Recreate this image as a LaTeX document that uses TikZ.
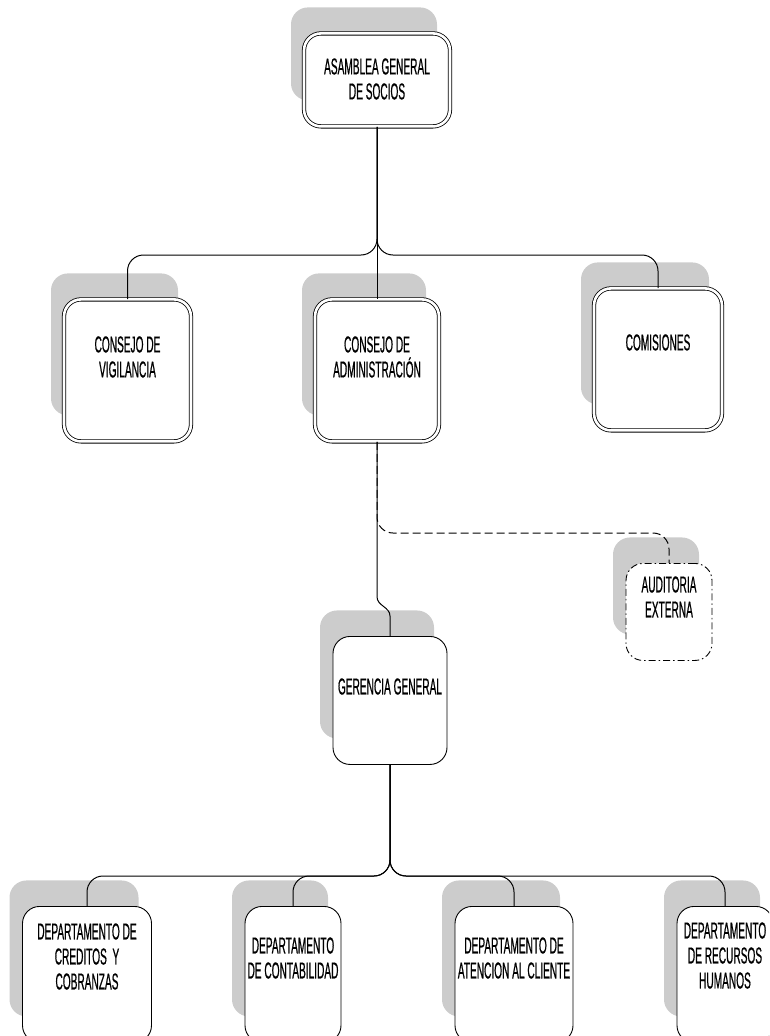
\documentclass[tikz,border=0pt]{standalone}
\usepackage{fontspec}
\usepackage{tikz}
\usetikzlibrary{calc,shadows}
\newfontfamily\orgfont[FakeStretch=0.44,FakeBold=0.6]{Liberation Sans}
\definecolor{ShadowGray}{RGB}{204,204,204}

\begin{document}
\begin{tikzpicture}[x=1pt,y=-1pt,
  box/.style={draw,fill=white,line width=0.9pt,rounded corners=17pt,anchor=north,
    inner sep=0pt,align=center,font=\orgfont\fontsize{23}{25}\selectfont,
    general shadow={fill=ShadowGray,shadow xshift=-13pt,shadow yshift=26pt}},
  dbox/.style={box,double,double distance=2.6pt,line width=0.8pt},
  abox/.style={box,dash pattern=on 7pt off 3pt on 1.5pt off 3pt},
  conn/.style={line width=1pt,rounded corners=16pt},
  dashconn/.style={conn,dash pattern=on 8pt off 4pt}]
  \useasboundingbox (0,0) rectangle (769,1036);
  \clip (0,0) rectangle (769,1036);

  % top
  \node[dbox,minimum width=146pt,text height=66pt,text depth=27pt] (asm) at (377,33)
    {ASAMBLEA GENERAL\\DE SOCIOS};

  % second row
  \node[dbox,minimum width=127pt,text height=78pt,text depth=64pt] (vig) at (127.5,299)
    {CONSEJO DE\\VIGILANCIA};
  \node[dbox,minimum width=124pt,text height=78pt,text depth=64pt] (adm) at (377,299)
    {CONSEJO DE\\ADMINISTRACIÓN};
  \node[dbox,minimum width=128pt,text height=62pt,text depth=80pt] (com) at (658,288)
    {COMISIONES};

  % staff + management
  \node[abox,minimum width=86pt,text height=54pt,text depth=43pt] (aud) at (669,563)
    {AUDITORIA\\EXTERNA};
  \node[box,minimum width=114pt,text height=58pt,text depth=70pt] (ger) at (390,636)
    {GERENCIA GENERAL};

  % departments
  \node[box,minimum width=129pt,text height=83pt,text depth=53pt] (cre) at (87,906)
    {DEPARTAMENTO DE\\CREDITOS \ Y\\COBRANZAS};
  \node[box,minimum width=96pt,text height=72pt,text depth=64pt] (con) at (293,906)
    {DEPARTAMENTO\\DE CONTABILIDAD};
  \node[box,minimum width=118pt,text height=72pt,text depth=64pt] (ate) at (514,906)
    {DEPARTAMENTO DE\\ATENCION AL CLIENTE};
  \node[box,minimum width=96pt,text height=82pt,text depth=54pt] (rec) at (725,906)
    {DEPARTAMENTO\\DE RECURSOS\\HUMANOS};

  % lines
  \coordinate (top) at (377,255);
  \coordinate (aux) at (377,533);
  \coordinate (low) at (390,876);
  \draw[conn] (asm.south) -- (adm.north);
  \draw[conn] (asm.south) -- (asm.south |- top) -- (vig.north |- top) -- (vig.north);
  \draw[conn] (asm.south) -- (asm.south |- top) -- (com.north |- top) -- (com.north);
  \draw[dashconn] (adm.south) -- (adm.south |- aux) -- (aud.north |- aux) -- (aud.north);
  \draw[conn,sharp corners] (adm.south) -- ++(0,155) to[out=-90,in=90] ($(ger.north)+(0,-20)$) -- (ger.north);
  \draw[conn] (ger.south) -- (ger.south |- low) -- (cre.north |- low) -- (cre.north);
  \draw[conn] (ger.south) -- (ger.south |- low) -- (con.north |- low) -- (con.north);
  \draw[conn] (ger.south) -- (ger.south |- low) -- (ate.north |- low) -- (ate.north);
  \draw[conn] (ger.south) -- (ger.south |- low) -- (rec.north |- low) -- (rec.north);
\end{tikzpicture}
\end{document}
